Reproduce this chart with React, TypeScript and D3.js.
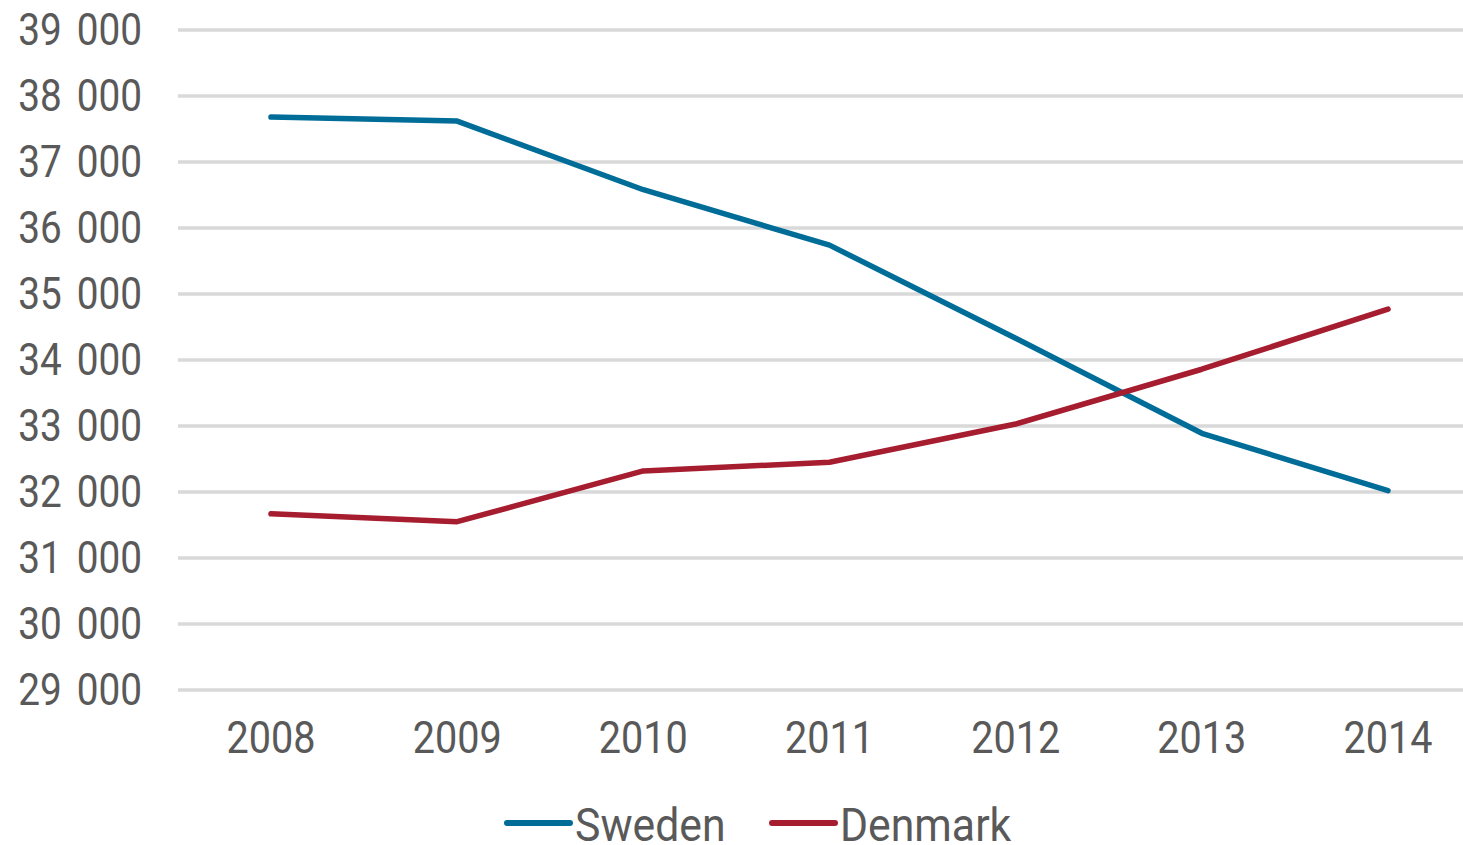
import React from "react";
import * as d3 from "d3";

const years = ["2008", "2009", "2010", "2011", "2012", "2013", "2014"];
const sweden = [37680, 37620, 36580, 35740, 34330, 32890, 32020];
const denmark = [31670, 31550, 32320, 32450, 33030, 33860, 34770];
const yTicks = [29000, 30000, 31000, 32000, 33000, 34000, 35000, 36000, 37000, 38000, 39000];

const seriesList = [
  { name: "Sweden", values: sweden, color: "#006d98" },
  { name: "Denmark", values: denmark, color: "#a51d2e" },
];

const W = 1463;
const H = 845;
const FONT = "Roboto, 'Noto Sans', sans-serif";
const TEXT = "#595959";

export default function App() {
  const x = d3.scalePoint<string>().domain(years).range([271, 1388]);
  const y = d3.scaleLinear().domain([29000, 39000]).range([690, 30]);
  const line = d3
    .line<number>()
    .x((_, i) => x(years[i]) as number)
    .y((d) => y(d));
  const fmt = (v: number) => d3.format(",")(v).replace(",", " ");

  const legendX = [507, 772];

  return (
    <svg
      width={W}
      height={H}
      style={{ position: "absolute", left: 0, top: 0, background: "#fff" }}
      fontFamily={FONT}
    >
      {yTicks.map((t) => (
        <g key={t}>
          <line x1={178} x2={1463} y1={y(t)} y2={y(t)} stroke="#d9d9d9" strokeWidth={3.5} />
          <text
            transform={`translate(142,${y(t) + 15}) scale(0.88,1)`}
            textAnchor="end"
            fontSize={44}
            fill={TEXT}
            wordSpacing={6}
          >
            {fmt(t)}
          </text>
        </g>
      ))}
      {years.map((yr) => (
        <text
          key={yr}
          transform={`translate(${x(yr)},${753}) scale(0.9,1)`}
          textAnchor="middle"
          fontSize={44}
          fill={TEXT}
        >
          {yr}
        </text>
      ))}
      {seriesList.map((s) => (
        <path
          key={s.name}
          d={line(s.values) || ""}
          fill="none"
          stroke={s.color}
          strokeWidth={5.5}
          strokeLinecap="round"
          strokeLinejoin="round"
        />
      ))}
      {seriesList.map((s, i) => (
        <g key={s.name} transform={`translate(${legendX[i]},0)`}>
          <line x1={0} x2={63} y1={823} y2={823} stroke={s.color} strokeWidth={6} strokeLinecap="round" />
          <text transform={`translate(68,841) scale(0.93,1)`} fontSize={46} fill={TEXT}>
            {s.name}
          </text>
        </g>
      ))}
    </svg>
  );
}
